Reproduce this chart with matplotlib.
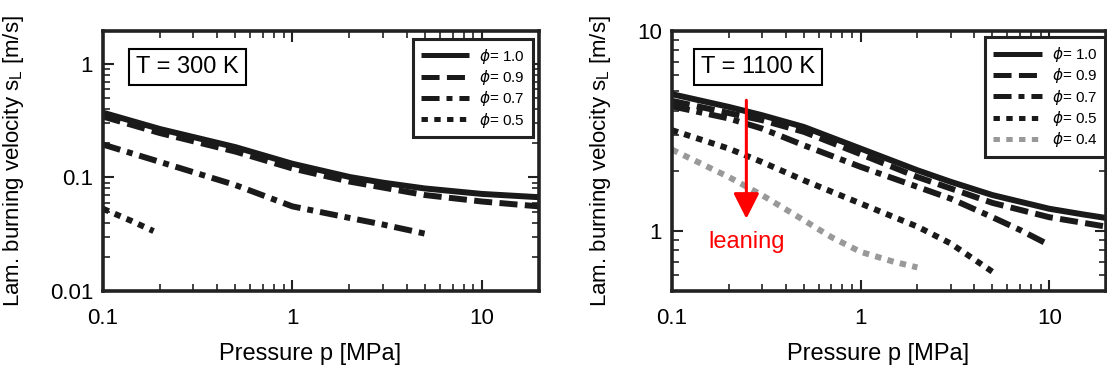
import numpy as np
import matplotlib
matplotlib.use('Agg')
import matplotlib.pyplot as plt
from matplotlib.ticker import LogLocator, NullFormatter
from matplotlib.patches import FancyArrowPatch

plt.rcParams['font.family'] = ['Liberation Sans', 'DejaVu Sans']
plt.rcParams['mathtext.fontset'] = 'dejavusans'
plt.rcParams['lines.scale_dashes'] = False

# T = 300 K  (pressure in MPa, burning velocity in m/s)
p300_10 = [0.1, 0.2, 0.5, 1, 2, 3, 5, 10, 20]
sl300_10 = [0.372, 0.267, 0.185, 0.132, 0.101, 0.090, 0.080, 0.0716, 0.067]
p300_09 = [0.1, 0.2, 0.5, 1, 2, 5, 10, 20]
sl300_09 = [0.344, 0.246, 0.169, 0.12, 0.092, 0.070, 0.0614, 0.0556]
p300_07 = [0.1, 0.2, 0.5, 1, 2, 3, 5]
sl300_07 = [0.195, 0.137, 0.0857, 0.0556, 0.044, 0.0385, 0.032]
p300_05 = [0.1, 0.14, 0.185]
sl300_05 = [0.053, 0.0417, 0.0337]

# T = 1100 K
p1100_10 = [0.1, 0.2, 0.3, 0.5, 1, 2, 3, 5, 10, 15, 20]
sl1100_10 = [4.83, 4.17, 3.79, 3.31, 2.58, 2.01, 1.76, 1.51, 1.29, 1.21, 1.16]
p1100_09 = [0.1, 0.3, 0.5, 1, 2, 3, 5, 10, 20]
sl1100_09 = [4.47, 3.58, 3.13, 2.42, 1.86, 1.63, 1.38, 1.17, 1.05]
p1100_07 = [0.1, 0.2, 0.3, 0.5, 1, 2, 3, 5, 7, 10]
sl1100_07 = [4.2, 3.65, 3.25, 2.68, 2.09, 1.66, 1.45, 1.17, 1.01, 0.85]
p1100_05 = [0.1, 0.2, 0.3, 0.5, 1, 2, 3, 5]
sl1100_05 = [3.19, 2.58, 2.21, 1.79, 1.37, 1.05, 0.865, 0.624]
p1100_04 = [0.1, 0.2, 0.3, 0.5, 0.7, 1, 1.5, 2]
sl1100_04 = [2.55, 1.86, 1.51, 1.13, 0.93, 0.785, 0.70, 0.656]

labels = ['$\\phi$= 1.0', '$\\phi$= 0.9', '$\\phi$= 0.7', '$\\phi$= 0.5', '$\\phi$= 0.4']
dash_styles = ['-', (0, (13, 5.3)), (0, (13, 5, 4.3, 5)), (0, (4.6, 4.6)), (0, (4.6, 4.6))]
colors = ['#1a1a1a', '#1a1a1a', '#1a1a1a', '#1a1a1a', '#999999']

fig = plt.figure(figsize=(11.07, 3.69), dpi=100)
ax1 = fig.add_axes([0.0930, 0.2114, 0.3939, 0.7046])
ax2 = fig.add_axes([0.6070, 0.2114, 0.3921, 0.7046])

def draw(ax, series):
    for i, (p, s) in enumerate(series):
        ax.plot(p, s, color=colors[i], lw=4.3, linestyle=dash_styles[i],
                solid_capstyle='butt', dash_capstyle='butt',
                solid_joinstyle='round', label=labels[i])

draw(ax1, [(p300_10, sl300_10), (p300_09, sl300_09), (p300_07, sl300_07), (p300_05, sl300_05)])
draw(ax2, [(p1100_10, sl1100_10), (p1100_09, sl1100_09), (p1100_07, sl1100_07),
           (p1100_05, sl1100_05), (p1100_04, sl1100_04)])

for ax in (ax1, ax2):
    ax.set_xscale('log')
    ax.set_yscale('log')
    ax.set_xlim(0.1, 20)
    ax.set_xticks([0.1, 1, 10], ['0.1', '1', '10'])
    ax.xaxis.set_minor_locator(LogLocator(subs=np.arange(2, 10)))
    ax.xaxis.set_minor_formatter(NullFormatter())
    ax.yaxis.set_minor_locator(LogLocator(subs=np.arange(2, 10)))
    ax.yaxis.set_minor_formatter(NullFormatter())
    ax.tick_params(which='both', direction='in', top=True, right=True,
                   labelsize=16, color='#222222')
    ax.tick_params(axis='x', pad=12)
    ax.tick_params(axis='y', pad=7)
    ax.tick_params(which='major', length=8, width=1.5)
    ax.tick_params(which='minor', length=5, width=1.2)
    for sp in ax.spines.values():
        sp.set_linewidth(2.6)
        sp.set_color('#222222')
    ax.set_xlabel('Pressure p [MPa]', fontsize=17)
    ax.xaxis.set_label_coords(0.476, -0.2)
    ax.set_ylabel('Lam. burning velocity s$_\\mathregular{L}$ [m/s]', fontsize=16)

ax1.set_ylim(0.01, 1.95)
ax1.set_yticks([0.01, 0.1, 1], ['0.01', '0.1', '1'])
ax1.yaxis.set_label_coords(-0.176, 0.5)
ax2.set_ylim(0.5, 10)
ax2.set_yticks([1, 10], ['1', '10'])
ax2.yaxis.set_label_coords(-0.136, 0.5)

ax1.text(0.193, 0.862, 'T = 300 K', transform=ax1.transAxes, fontsize=17,
         ha='center', va='center',
         bbox=dict(boxstyle='square,pad=0.3', fc='white', ec='black', lw=1.5))
ax2.text(0.198, 0.862, 'T = 1100 K', transform=ax2.transAxes, fontsize=17,
         ha='center', va='center',
         bbox=dict(boxstyle='square,pad=0.3', fc='white', ec='black', lw=1.5))

for ax, anchor in ((ax1, (0.986, 0.969)), (ax2, (0.998, 0.975))):
    leg = ax.legend(loc='upper right', bbox_to_anchor=anchor, borderaxespad=0,
                    fontsize=11, handlelength=3.2, handletextpad=0.65,
                    labelspacing=0.15, borderpad=0.5, fancybox=False,
                    framealpha=1)
    leg.get_frame().set_edgecolor('#222222')
    leg.get_frame().set_linewidth(2.2)
    for line in leg.get_lines():
        line.set_linewidth(3.6)

arrow = FancyArrowPatch((0.248, 4.5), (0.248, 1.15),
                        arrowstyle='-|>,head_length=15.6,head_width=7.9',
                        mutation_scale=1, color='red', lw=2.2,
                        shrinkA=0, shrinkB=0, zorder=5)
ax2.add_patch(arrow)
ax2.text(0.248, 0.88, 'leaning', color='red', fontsize=17, ha='center', va='center')

fig.savefig('out.png', dpi=100)
